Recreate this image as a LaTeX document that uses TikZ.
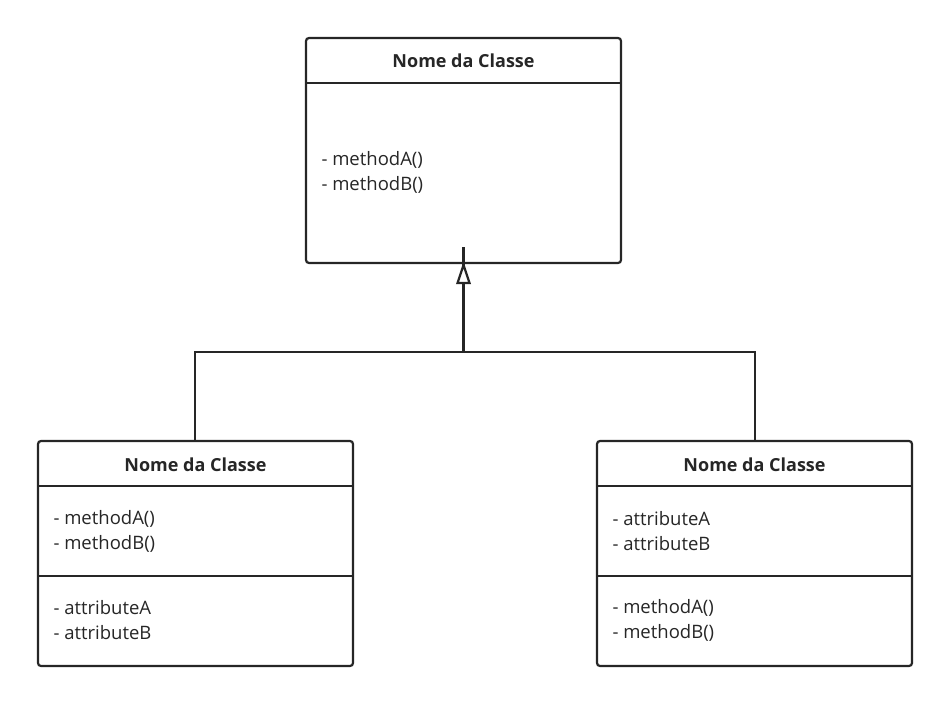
\documentclass[tikz,border=0pt]{standalone}
\usepackage{fontspec}
\setmainfont{Open Sans}
\begin{document}
\begin{tikzpicture}[x=1pt,y=-1pt,
  box/.style={draw=black!85,line width=2.2pt,rounded corners=3pt},
  sep/.style={draw=black!85,line width=2pt},
  ttl/.style={font=\fontsize{18}{20}\selectfont\bfseries,text=black!85},
  txt/.style={font=\fontsize{18.5}{25}\selectfont,text=black!85,anchor=west,align=left},
  conn/.style={draw=black!85,line width=2.2pt},
  head/.style={draw=black!85,fill=white,line width=2.2pt,line join=miter}]
\useasboundingbox (0,0) rectangle (949,703);
% top class
\draw[box] (306,38) rectangle (621,263);
\draw[sep] (306,83) -- (621,83);
\node[ttl] (t) at (463.5,61) {Nome da Classe};
\node[txt] (tm) at (318,172.5) {- methodA()\\- methodB()};
\coordinate (ttop) at (463.5,265);
% bottom left
\draw[box] (38,441) rectangle (353,666);
\draw[sep] (38,486) -- (353,486);
\draw[sep] (38,576) -- (353,576);
\node[ttl] (l) at (195.5,465) {Nome da Classe};
\node[txt] (lm) at (50,531.5) {- methodA()\\- methodB()};
\node[txt] (la) at (50,620.5) {- attributeA\\- attributeB};
\coordinate (ltop) at (195,441);
% bottom right
\draw[box] (597,441) rectangle (912,666);
\draw[sep] (597,486) -- (912,486);
\draw[sep] (597,576) -- (912,576);
\node[ttl] (r) at (754.5,465) {Nome da Classe};
\node[txt] (ra) at (609,531.5) {- attributeA\\- attributeB};
\node[txt] (rm) at (609,620.5) {- methodA()\\- methodB()};
\coordinate (rtop) at (755,441);
% connectors
\coordinate (j) at (463.5,352);
\draw[conn] (ltop) |- (j) -| (rtop);
\draw[conn] (j) -- ([yshift=18pt]ttop);
\draw[head] (ttop) -- ++(-6,18) -- ++(12,0) -- cycle;
\end{tikzpicture}
\end{document}
